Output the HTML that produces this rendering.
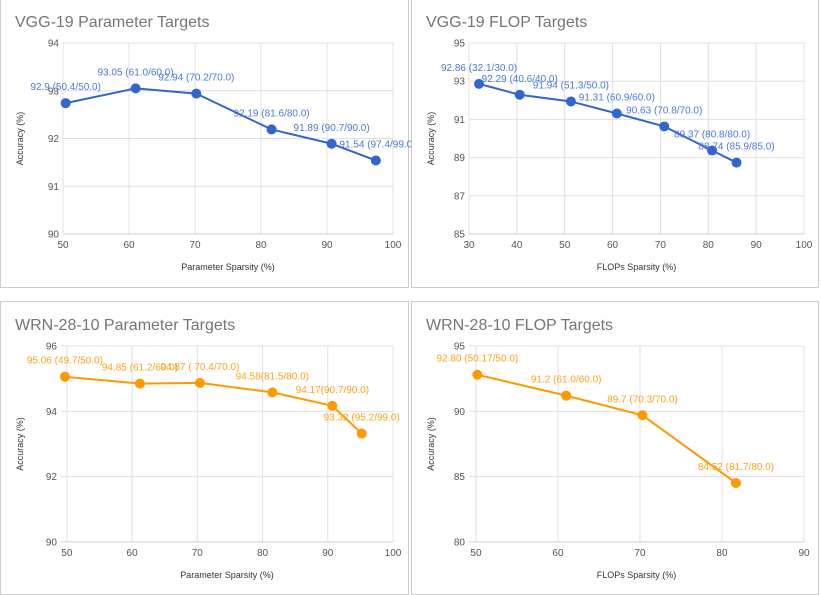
<!DOCTYPE html>
<html><head><meta charset="utf-8"><style>
body{margin:0;background:#fff;width:821px;height:595px;overflow:hidden;font-family:"Liberation Sans",sans-serif}
svg{position:absolute;left:0;top:0}
</style></head><body>
<svg id="c" width="821" height="595" xmlns="http://www.w3.org/2000/svg"></svg>
<script>
const c1Titles="VGG-19 Parameter Targets";
const c1X=[50.4,61.0,70.2,81.6,90.7,97.4];
const c1Y=[92.74,93.05,92.94,92.19,91.89,91.54];
const c1Labels=["92.9 (50.4/50.0)","93.05 (61.0/60.0)","92.94 (70.2/70.0)","92.19 (81.6/80.0)","91.89 (90.7/90.0)","91.54 (97.4/99.0"];
const c1XTicks=[50,60,70,80,90,100];
const c1YTicks=[90,91,92,93,94];

const c2X=[32.1,40.6,51.3,60.9,70.8,80.8,85.9];
const c2Y=[92.86,92.29,91.94,91.31,90.63,89.37,88.74];
const c2Labels=["92.86 (32.1/30.0)","92.29 (40.6/40.0)","91.94 (51.3/50.0)","91.31 (60.9/60.0)","90.63 (70.8/70.0)","89.37 (80.8/80.0)","88.74 (85.9/85.0)"];
const c2XTicks=[30,40,50,60,70,80,90,100];
const c2YTicks=[85,87,89,91,93,95];

const c3X=[49.7,61.2,70.4,81.5,90.7,95.2];
const c3Y=[95.06,94.85,94.87,94.58,94.17,93.32];
const c3Labels=["95.06 (49.7/50.0)","94.85 (61.2/60.0)","94.87 ( 70.4/70.0)","94.58(81.5/80.0)","94.17(90.7/90.0)","93.32 (95.2/99.0)"];
const c3XTicks=[50,60,70,80,90,100];
const c3YTicks=[90,92,94,96];

const c4X=[50.17,61.0,70.3,81.7];
const c4Y=[92.80,91.2,89.7,84.52];
const c4Labels=["92.80 (50.17/50.0)","91.2 (61.0/60.0)","89.7 (70.3/70.0)","84.52 (81.7/80.0)"];
const c4XTicks=[50,60,70,80,90];
const c4YTicks=[80,85,90,95];

const NS="http://www.w3.org/2000/svg";
const svg=document.getElementById('c');
function mk(tag,attrs,parent,text){const e=document.createElementNS(NS,tag);for(const k in attrs)e.setAttribute(k,attrs[k]);if(text!==undefined)e.textContent=text;(parent||svg).appendChild(e);return e;}

function chart(o){
  const g=mk('g',{});
  
  
  const p=mk('rect',{x:o.bx0+0.5,y:o.by0+0.5,width:o.bx1-o.bx0,height:o.by1-o.by0,fill:'#fff',stroke:'#ccc'},g);
  
  
  const sx=v=>o.px0+(v-o.xd0)/(o.xd1-o.xd0)*(o.px1-o.px0);
  const sy=v=>o.py1-(v-o.yd0)/(o.yd1-o.yd0)*(o.py1-o.py0);
  const t=mk('text',{x:o.bx0+15,y:o.ty,'font-size':16,fill:'#757575'},g,o.title);
  
  
  o.yt.forEach(v=>{
    const l=mk('line',{x1:o.px0,x2:o.px1,y1:sy(v),y2:sy(v),stroke:'#e0e0e0'},g);
    
    
    const tx=mk('text',{x:o.px0-4,y:sy(v)+3.5,'font-size':10,fill:'#555','text-anchor':'end'},g,String(v));
    
    
  });
  o.xt.forEach(v=>{
    const l=mk('line',{x1:sx(v),x2:sx(v),y1:o.py0,y2:o.py1,stroke:'#e0e0e0'},g);
    
    
    const tx=mk('text',{x:sx(v),y:o.py1+14,'font-size':10,fill:'#555','text-anchor':'middle'},g,String(v));
    
    
  });
  const xl=mk('line',{x1:o.px0,x2:o.px1,y1:o.py1,y2:o.py1,stroke:'#ccc'},g);
  
  
  const xt=mk('text',{x:(o.px0+o.px1)/2,y:o.xty,'font-size':9,fill:'#333','text-anchor':'middle'},g,o.xtitle);
  
  
  const yc=(o.py0+o.py1)/2;
  const yt=mk('text',{x:0,y:0,'font-size':9,fill:'#333','text-anchor':'middle',transform:`translate(${o.bx0+23},${yc}) rotate(-90)`},g,'Accuracy (%)');
  
  
  const pts=o.x.map((v,i)=>sx(v)+','+sy(o.y[i])).join(' ');
  const pl=mk('polyline',{points:pts,fill:'none',stroke:o.color,'stroke-width':2},g);
  
  
  o.x.forEach((v,i)=>{
    const ci=mk('circle',{cx:sx(v),cy:sy(o.y[i]),r:5,fill:o.color},g);
    
    
    const lb=mk('text',{x:sx(v),y:sy(o.y[i])-13,'font-size':10,fill:o.lcolor,'text-anchor':'middle'},g,o.labels[i]);
    
    
  });
}
chart({name:'vgg19-parameter-chart',title:c1Titles,bx0:0,by0:-1,bx1:408,by1:287,px0:63,px1:393,py0:43,py1:234,xd0:50,xd1:100,yd0:90,yd1:94,xt:c1XTicks,yt:c1YTicks,x:c1X,y:c1Y,labels:c1Labels,color:'#3366cc',lcolor:'#4a78dd',ty:27,xty:270,xtitle:'Parameter Sparsity (%)'});
chart({name:'vgg19-flop-chart',title:'VGG-19 FLOP Targets',bx0:411,by0:-1,bx1:818,by1:287,px0:469,px1:804,py0:43,py1:234,xd0:30,xd1:100,yd0:85,yd1:95,xt:c2XTicks,yt:c2YTicks,x:c2X,y:c2Y,labels:c2Labels,color:'#3366cc',lcolor:'#4a78dd',ty:27,xty:270,xtitle:'FLOPs Sparsity (%)'});
chart({name:'wrn-parameter-chart',title:'WRN-28-10 Parameter Targets',bx0:0,by0:301,bx1:408,by1:594,px0:61,px1:393,py0:346,py1:542,xd0:49.1,xd1:100,yd0:90,yd1:96,xt:c3XTicks,yt:c3YTicks,x:c3X,y:c3Y,labels:c3Labels,color:'#ff9900',lcolor:'#ffa31a',ty:330,xty:578,xtitle:'Parameter Sparsity (%)'});
chart({name:'wrn-flop-chart',title:'WRN-28-10 FLOP Targets',bx0:411,by0:301,bx1:818,by1:594,px0:469,px1:804,py0:346,py1:542,xd0:49.15,xd1:90,yd0:80,yd1:95,xt:c4XTicks,yt:c4YTicks,x:c4X,y:c4Y,labels:c4Labels,color:'#ff9900',lcolor:'#ffa31a',ty:330,xty:578,xtitle:'FLOPs Sparsity (%)'});
</script>
</body></html>
